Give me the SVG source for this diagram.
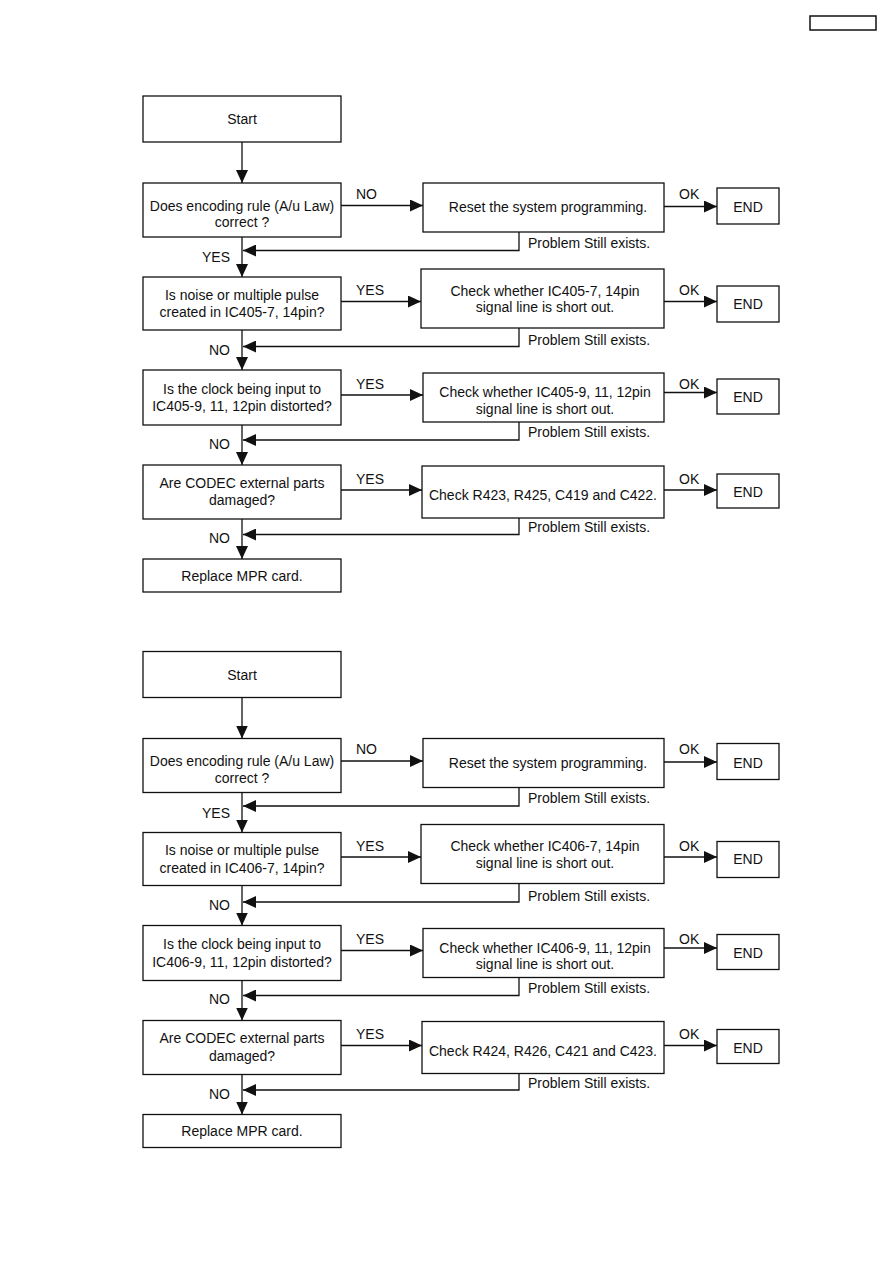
<svg xmlns="http://www.w3.org/2000/svg" width="893" height="1263" viewBox="0 0 893 1263">
<style>
.box{fill:#fff;stroke:#111;stroke-width:1.3}
.t{font-family:"Liberation Sans",Arial,Helvetica,sans-serif;font-size:14px;fill:#111}
.c{text-anchor:middle}
.e{text-anchor:end}
.ln{stroke:#111;stroke-width:1.3;fill:none}
.ar{marker-end:url(#ah)}
</style>
<defs>
<marker id="ah" viewBox="0 0 13 12" refX="13" refY="6" markerWidth="13" markerHeight="12" markerUnits="userSpaceOnUse" orient="auto"><path d="M0,0 L13,6 L0,12 Z" fill="#111"/></marker>
</defs>
<rect width="893" height="1263" fill="#fff"/>
<g id="page-tag"><rect x="810" y="16" width="66" height="14" fill="#fff" stroke="#111" stroke-width="1.5"/></g>

<g id="chart1">
<g id="connectors1">
<path class="ln ar" d="M242,142 V183"/>
<path class="ln ar" d="M242,237 V277"/>
<path class="ln ar" d="M242,330 V370"/>
<path class="ln ar" d="M242,425 V465"/>
<path class="ln ar" d="M242,519 V559"/>
<path class="ln ar" d="M341,205.5 H423"/>
<path class="ln ar" d="M341,301.5 H421"/>
<path class="ln ar" d="M341,395 H423"/>
<path class="ln ar" d="M341,490 H422"/>
<path class="ln ar" d="M664,206.5 H717"/>
<path class="ln ar" d="M664,301.5 H717"/>
<path class="ln ar" d="M664,392.5 H717"/>
<path class="ln ar" d="M664,490 H717"/>
<path class="ln ar" d="M519,232 V250.5 H243"/>
<path class="ln ar" d="M519,328 V346.5 H243"/>
<path class="ln ar" d="M519,422 V440 H243"/>
<path class="ln ar" d="M519,518 V534.5 H243"/>
<text class="t" x="356" y="198.5">NO</text>
<text class="t" x="356" y="295">YES</text>
<text class="t" x="356" y="388.5">YES</text>
<text class="t" x="356" y="483.5">YES</text>
<text class="t" x="679" y="198.5">OK</text>
<text class="t" x="679" y="295">OK</text>
<text class="t" x="679" y="388.5">OK</text>
<text class="t" x="679" y="483.5">OK</text>
<text class="t e" x="230" y="262">YES</text>
<text class="t e" x="230" y="354.5">NO</text>
<text class="t e" x="230" y="448.5">NO</text>
<text class="t e" x="230" y="543">NO</text>
<text class="t" x="528" y="247.5">Problem Still exists.</text>
<text class="t" x="528" y="345">Problem Still exists.</text>
<text class="t" x="528" y="437">Problem Still exists.</text>
<text class="t" x="528" y="532">Problem Still exists.</text>
</g>
<g id="start1"><rect class="box" x="143" y="96" width="198" height="46"/><text class="t c" x="242" y="124">Start</text></g>
<g id="q1-encoding"><rect class="box" x="143" y="183" width="198" height="54"/><text class="t c" x="242" y="210.5">Does encoding rule (A/u Law)</text><text class="t c" x="242" y="227">correct ?</text></g>
<g id="q1-noise"><rect class="box" x="143" y="277" width="198" height="53"/><text class="t c" x="242" y="299.5">Is noise or multiple pulse</text><text class="t c" x="242" y="317">created in IC405-7, 14pin?</text></g>
<g id="q1-clock"><rect class="box" x="143" y="370" width="198" height="55"/><text class="t c" x="242" y="393.5">Is the clock being input to</text><text class="t c" x="242" y="411">IC405-9, 11, 12pin distorted?</text></g>
<g id="q1-codec"><rect class="box" x="143" y="465" width="198" height="54"/><text class="t c" x="242" y="487.5">Are CODEC external parts</text><text class="t c" x="242" y="505">damaged?</text></g>
<g id="replace1"><rect class="box" x="143" y="559" width="198" height="33"/><text class="t c" x="242" y="580.5">Replace MPR card.</text></g>
<g id="a1-reset"><rect class="box" x="423" y="183" width="241" height="49"/><text class="t c" x="548" y="212">Reset the system programming.</text></g>
<g id="a1-check7"><rect class="box" x="421" y="269" width="243" height="59"/><text class="t c" x="545" y="295.5">Check whether IC405-7, 14pin</text><text class="t c" x="545" y="312">signal line is short out.</text></g>
<g id="a1-check9"><rect class="box" x="423" y="373" width="241" height="49"/><text class="t c" x="545" y="397">Check whether IC405-9, 11, 12pin</text><text class="t c" x="545" y="413.5">signal line is short out.</text></g>
<g id="a1-checkR"><rect class="box" x="422" y="466" width="242" height="52"/><text class="t c" x="543" y="500">Check R423, R425, C419 and C422.</text></g>
<g id="end1-1"><rect class="box" x="717" y="188" width="62" height="36"/><text class="t c" x="748" y="212">END</text></g>
<g id="end1-2"><rect class="box" x="717" y="286" width="62" height="36"/><text class="t c" x="748" y="308.5">END</text></g>
<g id="end1-3"><rect class="box" x="717" y="379" width="62" height="35"/><text class="t c" x="748" y="402">END</text></g>
<g id="end1-4"><rect class="box" x="717" y="474" width="62" height="34"/><text class="t c" x="748" y="497">END</text></g>
</g>

<g id="chart2" transform="translate(0,555.5)">
<g id="connectors2">
<path class="ln ar" d="M242,142 V183"/>
<path class="ln ar" d="M242,237 V277"/>
<path class="ln ar" d="M242,330 V370"/>
<path class="ln ar" d="M242,425 V465"/>
<path class="ln ar" d="M242,519 V559"/>
<path class="ln ar" d="M341,205.5 H423"/>
<path class="ln ar" d="M341,301.5 H421"/>
<path class="ln ar" d="M341,395 H423"/>
<path class="ln ar" d="M341,490 H422"/>
<path class="ln ar" d="M664,206.5 H717"/>
<path class="ln ar" d="M664,301.5 H717"/>
<path class="ln ar" d="M664,392.5 H717"/>
<path class="ln ar" d="M664,490 H717"/>
<path class="ln ar" d="M519,232 V250.5 H243"/>
<path class="ln ar" d="M519,328 V346.5 H243"/>
<path class="ln ar" d="M519,422 V440 H243"/>
<path class="ln ar" d="M519,518 V534.5 H243"/>
<text class="t" x="356" y="198.5">NO</text>
<text class="t" x="356" y="295">YES</text>
<text class="t" x="356" y="388.5">YES</text>
<text class="t" x="356" y="483.5">YES</text>
<text class="t" x="679" y="198.5">OK</text>
<text class="t" x="679" y="295">OK</text>
<text class="t" x="679" y="388.5">OK</text>
<text class="t" x="679" y="483.5">OK</text>
<text class="t e" x="230" y="262">YES</text>
<text class="t e" x="230" y="354.5">NO</text>
<text class="t e" x="230" y="448.5">NO</text>
<text class="t e" x="230" y="543">NO</text>
<text class="t" x="528" y="247.5">Problem Still exists.</text>
<text class="t" x="528" y="345">Problem Still exists.</text>
<text class="t" x="528" y="437">Problem Still exists.</text>
<text class="t" x="528" y="532">Problem Still exists.</text>
</g>
<g id="start2"><rect class="box" x="143" y="96" width="198" height="46"/><text class="t c" x="242" y="124">Start</text></g>
<g id="q2-encoding"><rect class="box" x="143" y="183" width="198" height="54"/><text class="t c" x="242" y="210.5">Does encoding rule (A/u Law)</text><text class="t c" x="242" y="227">correct ?</text></g>
<g id="q2-noise"><rect class="box" x="143" y="277" width="198" height="53"/><text class="t c" x="242" y="299.5">Is noise or multiple pulse</text><text class="t c" x="242" y="317">created in IC406-7, 14pin?</text></g>
<g id="q2-clock"><rect class="box" x="143" y="370" width="198" height="55"/><text class="t c" x="242" y="393.5">Is the clock being input to</text><text class="t c" x="242" y="411">IC406-9, 11, 12pin distorted?</text></g>
<g id="q2-codec"><rect class="box" x="143" y="465" width="198" height="54"/><text class="t c" x="242" y="487.5">Are CODEC external parts</text><text class="t c" x="242" y="505">damaged?</text></g>
<g id="replace2"><rect class="box" x="143" y="559" width="198" height="33"/><text class="t c" x="242" y="580.5">Replace MPR card.</text></g>
<g id="a2-reset"><rect class="box" x="423" y="183" width="241" height="49"/><text class="t c" x="548" y="212">Reset the system programming.</text></g>
<g id="a2-check7"><rect class="box" x="421" y="269" width="243" height="59"/><text class="t c" x="545" y="295.5">Check whether IC406-7, 14pin</text><text class="t c" x="545" y="312">signal line is short out.</text></g>
<g id="a2-check9"><rect class="box" x="423" y="373" width="241" height="49"/><text class="t c" x="545" y="397">Check whether IC406-9, 11, 12pin</text><text class="t c" x="545" y="413.5">signal line is short out.</text></g>
<g id="a2-checkR"><rect class="box" x="422" y="466" width="242" height="52"/><text class="t c" x="543" y="500">Check R424, R426, C421 and C423.</text></g>
<g id="end2-1"><rect class="box" x="717" y="188" width="62" height="36"/><text class="t c" x="748" y="212">END</text></g>
<g id="end2-2"><rect class="box" x="717" y="286" width="62" height="36"/><text class="t c" x="748" y="308.5">END</text></g>
<g id="end2-3"><rect class="box" x="717" y="379" width="62" height="35"/><text class="t c" x="748" y="402">END</text></g>
<g id="end2-4"><rect class="box" x="717" y="474" width="62" height="34"/><text class="t c" x="748" y="497">END</text></g>
</g>
</svg>
